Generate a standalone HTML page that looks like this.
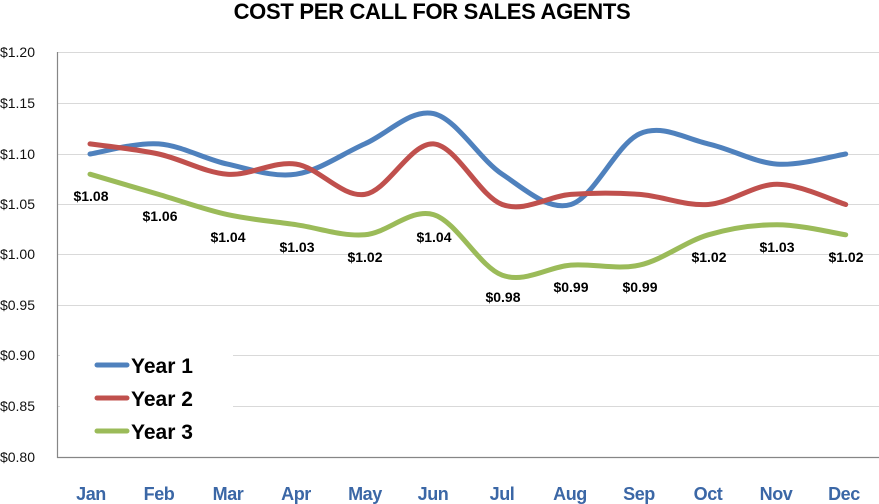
<!DOCTYPE html>
<html>
<head>
<meta charset="utf-8">
<style>
  html, body { margin: 0; padding: 0; background: #fff; }
  svg { display: block; }
  text { font-family: "Liberation Sans", "DejaVu Sans", sans-serif; }
</style>
</head>
<body>
<svg width="879" height="504" viewBox="0 0 879 504" xmlns="http://www.w3.org/2000/svg">
  <rect x="0" y="0" width="879" height="504" fill="#fff"/>
  <!-- title -->
  <text x="432" y="19" text-anchor="middle" font-size="22" font-weight="bold" fill="#000" letter-spacing="-0.3">COST PER CALL FOR SALES AGENTS</text>

  <!-- gridlines -->
  <g stroke="#d9d9d9" stroke-width="1">
    <line x1="57" y1="52.5" x2="879" y2="52.5"/>
    <line x1="57" y1="103.5" x2="879" y2="103.5"/>
    <line x1="57" y1="154.5" x2="879" y2="154.5"/>
    <line x1="57" y1="204.5" x2="879" y2="204.5"/>
    <line x1="57" y1="254.5" x2="879" y2="254.5"/>
    <line x1="57" y1="305.5" x2="879" y2="305.5"/>
    <line x1="57" y1="355.5" x2="879" y2="355.5"/>
    <line x1="57" y1="406.5" x2="879" y2="406.5"/>
  </g>
  <!-- axes -->
  <line x1="57.5" y1="52" x2="57.5" y2="458" stroke="#868686" stroke-width="1.2"/>
  <line x1="57" y1="457.5" x2="879" y2="457.5" stroke="#868686" stroke-width="1.2"/>

  <!-- y labels -->
  <g font-size="14" fill="#111" text-anchor="end">
    <text x="35" y="57">$1.20</text>
    <text x="35" y="108">$1.15</text>
    <text x="35" y="159">$1.10</text>
    <text x="35" y="209">$1.05</text>
    <text x="35" y="259">$1.00</text>
    <text x="35" y="310">$0.95</text>
    <text x="35" y="360">$0.90</text>
    <text x="35" y="411">$0.85</text>
    <text x="35" y="462">$0.80</text>
  </g>

  <!-- x labels -->
  <g font-size="18" font-weight="bold" fill="#3b67a6" text-anchor="middle" letter-spacing="-0.4">
    <text x="91" y="500">Jan</text>
    <text x="159" y="500">Feb</text>
    <text x="228" y="500">Mar</text>
    <text x="296" y="500">Apr</text>
    <text x="365" y="500">May</text>
    <text x="433" y="500">Jun</text>
    <text x="502" y="500">Jul</text>
    <text x="570" y="500">Aug</text>
    <text x="639" y="500">Sep</text>
    <text x="708" y="500">Oct</text>
    <text x="776" y="500">Nov</text>
    <text x="844" y="500">Dec</text>
  </g>

  <!-- series -->
  <g fill="none" stroke-width="5" stroke-linecap="round" stroke-linejoin="round">
    <path stroke="#4f81bd" d="M90,154 C101.45,152.3 135.8,142.2 158.7,143.9 S204.5,159.05 227.4,164.1 S273.2,177.6 296.1,174.2 S341.9,154 364.8,143.9 S410.6,108.55 433.5,113.6 S479.3,159.05 502.2,174.2 S548,211.2 570.9,204.5 S616.7,143.9 639.6,133.8 S685.4,138.85 708.3,143.9 S754.1,162.4 777,164.1 S834.25,155.7 845.7,154"/>
    <path stroke="#c0504d" d="M90,143.9 C101.45,145.6 135.8,148.95 158.7,154 S204.5,172.5 227.4,174.2 S273.2,160.7 296.1,164.1 S341.9,197.8 364.8,194.4 S410.6,142.2 433.5,143.9 S479.3,196.1 502.2,204.5 S548,196.1 570.9,194.4 S616.7,192.7 639.6,194.4 S685.4,206.2 708.3,204.5 S754.1,184.3 777,184.3 S834.25,201.1 845.7,204.5"/>
    <path stroke="#9bbb59" d="M90,174.2 C101.45,177.6 135.8,187.7 158.7,194.4 S204.5,209.55 227.4,214.6 S273.2,221.3 296.1,224.7 S341.9,236.5 364.8,234.8 S410.6,207.9 433.5,214.6 S479.3,266.8 502.2,275.2 S548,266.8 570.9,265.1 S616.7,270.15 639.6,265.1 S685.4,241.5 708.3,234.8 S754.1,224.7 777,224.7 S834.25,233.1 845.7,234.8"/>
  </g>

  <!-- data labels -->
  <g font-size="14" font-weight="bold" fill="#000" text-anchor="middle">
    <text x="91" y="201">$1.08</text>
    <text x="160" y="221">$1.06</text>
    <text x="228" y="242">$1.04</text>
    <text x="297" y="252">$1.03</text>
    <text x="365" y="262">$1.02</text>
    <text x="434" y="242">$1.04</text>
    <text x="503" y="302">$0.98</text>
    <text x="571" y="292">$0.99</text>
    <text x="640" y="292">$0.99</text>
    <text x="709" y="262">$1.02</text>
    <text x="777" y="252">$1.03</text>
    <text x="846" y="262">$1.02</text>
  </g>

  <!-- legend -->
  <rect x="60" y="340" width="173" height="110" fill="#fff"/>
  <g stroke-width="5" stroke-linecap="round">
    <line x1="97" y1="365" x2="127" y2="365" stroke="#4f81bd"/>
    <line x1="97" y1="398" x2="127" y2="398" stroke="#c0504d"/>
    <line x1="97" y1="431" x2="127" y2="431" stroke="#9bbb59"/>
  </g>
  <g font-size="21" font-weight="bold" fill="#000">
    <text x="131" y="373">Year 1</text>
    <text x="131" y="406">Year 2</text>
    <text x="131" y="439">Year 3</text>
  </g>
</svg>
</body>
</html>
